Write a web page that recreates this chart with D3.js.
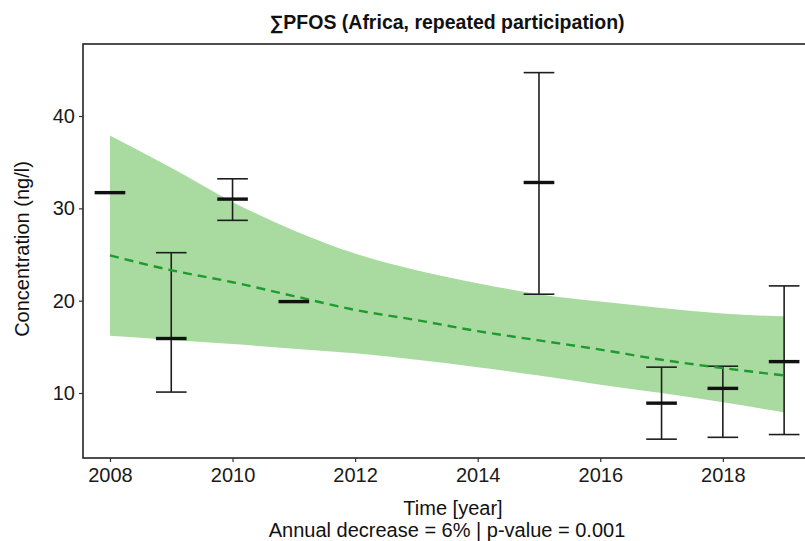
<!DOCTYPE html>
<html>
<head>
<meta charset="utf-8">
<script src="https://cdn.jsdelivr.net/npm/d3@7"></script>
<style>
  html, body { margin: 0; padding: 0; background: #fff; }
  svg { display: block; }
  text { font-family: "Liberation Sans", Arial, sans-serif; }
</style>
</head>
<body>
<svg id="chart" width="805" height="541"></svg>
<script>
// ---- data ----
const years = [2008, 2009, 2010, 2011, 2015, 2017, 2018, 2019];
const meanValues = [31.7, 15.9, 31.0, 19.9, 32.8, 8.9, 10.5, 13.4];
const lowerValues = [null, 10.1, 28.7, null, 20.7, 5.0, 5.2, 5.5];
const upperValues = [null, 25.2, 33.2, null, 44.7, 12.8, 12.9, 21.6];

const fitYears = [2008, 2009, 2010, 2011, 2012, 2013, 2014, 2015, 2016, 2017, 2018, 2019];
const fitTrend = [24.9, 23.3, 22.0, 20.5, 19.0, 17.9, 16.7, 15.7, 14.7, 13.6, 12.7, 11.9];
const fitLower = [16.2, 15.75, 15.3, 14.8, 14.3, 13.6, 12.8, 11.9, 10.9, 10.0, 9.0, 7.9];
const fitUpper = [37.9, 34.4, 30.7, 27.6, 25.1, 23.3, 21.9, 20.7, 19.9, 19.2, 18.6, 18.3];

const xTicks = [2008, 2010, 2012, 2014, 2016, 2018];
const yTicks = [10, 20, 30, 40];

const titleText = "\u2211PFOS (Africa, repeated participation)";
const xLabel = "Time [year]";
const subLabel = "Annual decrease = 6% | p-value = 0.001";
const yLabel = "Concentration (ng/l)";

// ---- layout ----
const svg = d3.select("#chart");
const panel = { left: 83, top: 44, right: 816, bottom: 458 };

const x = d3.scaleLinear().domain([2007.56, 2019.52]).range([panel.left, panel.right]);
const y = d3.scaleLinear().domain([2.96, 47.8]).range([panel.bottom, panel.top]);

const capHalf = x(2008.25) - x(2008);

// band
const fitData = fitYears.map((yr, i) => ({ yr, t: fitTrend[i], lo: fitLower[i], hi: fitUpper[i] }));
svg.append("path")
  .datum(fitData)
  .attr("fill", "#a9dba1")
  .attr("d", d3.area().curve(d3.curveMonotoneX)
    .x(d => x(d.yr)).y0(d => y(d.lo)).y1(d => y(d.hi)));

// error bars
const pts = years.map((yr, i) => ({ yr, m: meanValues[i], lo: lowerValues[i], hi: upperValues[i] }));
const eb = svg.append("g").attr("stroke", "#1e1e1e").attr("stroke-width", 1.6);
pts.filter(d => d.lo !== null).forEach(d => {
  eb.append("line").attr("x1", x(d.yr)).attr("x2", x(d.yr)).attr("y1", y(d.lo)).attr("y2", y(d.hi));
  eb.append("line").attr("x1", x(d.yr) - capHalf).attr("x2", x(d.yr) + capHalf).attr("y1", y(d.lo)).attr("y2", y(d.lo));
  eb.append("line").attr("x1", x(d.yr) - capHalf).attr("x2", x(d.yr) + capHalf).attr("y1", y(d.hi)).attr("y2", y(d.hi));
});

// trend
svg.append("path")
  .datum(fitData)
  .attr("fill", "none")
  .attr("stroke", "#1f9a2e")
  .attr("stroke-width", 2.4)
  .attr("stroke-dasharray", "9,6")
  .attr("d", d3.line().curve(d3.curveMonotoneX).x(d => x(d.yr)).y(d => y(d.t)));

// mean bars
svg.append("g").selectAll("line").data(pts).join("line")
  .attr("stroke", "#111")
  .attr("stroke-width", 3.4)
  .attr("x1", d => x(d.yr) - capHalf)
  .attr("x2", d => x(d.yr) + capHalf)
  .attr("y1", d => y(d.m))
  .attr("y2", d => y(d.m));

// panel border
svg.append("rect")
  .attr("x", panel.left).attr("y", panel.top)
  .attr("width", panel.right - panel.left).attr("height", panel.bottom - panel.top)
  .attr("fill", "none").attr("stroke", "#222").attr("stroke-width", 1.6);

// axes
const xAxis = svg.append("g")
  .attr("transform", `translate(0,${panel.bottom})`)
  .call(d3.axisBottom(x).tickValues(xTicks).tickFormat(d3.format("d")).tickSize(4).tickPadding(6));
const yAxis = svg.append("g")
  .attr("transform", `translate(${panel.left},0)`)
  .call(d3.axisLeft(y).tickValues(yTicks).tickSize(4).tickPadding(4));
[xAxis, yAxis].forEach(g => {
  g.select(".domain").remove();
  g.selectAll(".tick line").attr("stroke", "#333").attr("stroke-width", 1.2);
  g.selectAll(".tick text").attr("fill", "#1a1a1a").style("font-size", "20px")
    .style("font-family", '"Liberation Sans", Arial, sans-serif');
});

// titles
svg.append("text").attr("x", 447).attr("y", 29).attr("text-anchor", "middle")
  .style("font-size", "19.5px").style("font-weight", "bold").attr("fill", "#111").text(titleText);
svg.append("text").attr("x", 453).attr("y", 515).attr("text-anchor", "middle")
  .style("font-size", "20px").attr("fill", "#111").text(xLabel);
svg.append("text").attr("x", 447).attr("y", 537).attr("text-anchor", "middle")
  .style("font-size", "20px").attr("fill", "#111").text(subLabel);
svg.append("text").attr("transform", "translate(29,249) rotate(-90)").attr("text-anchor", "middle")
  .style("font-size", "20px").attr("fill", "#111").text(yLabel);
</script>
</body>
</html>
